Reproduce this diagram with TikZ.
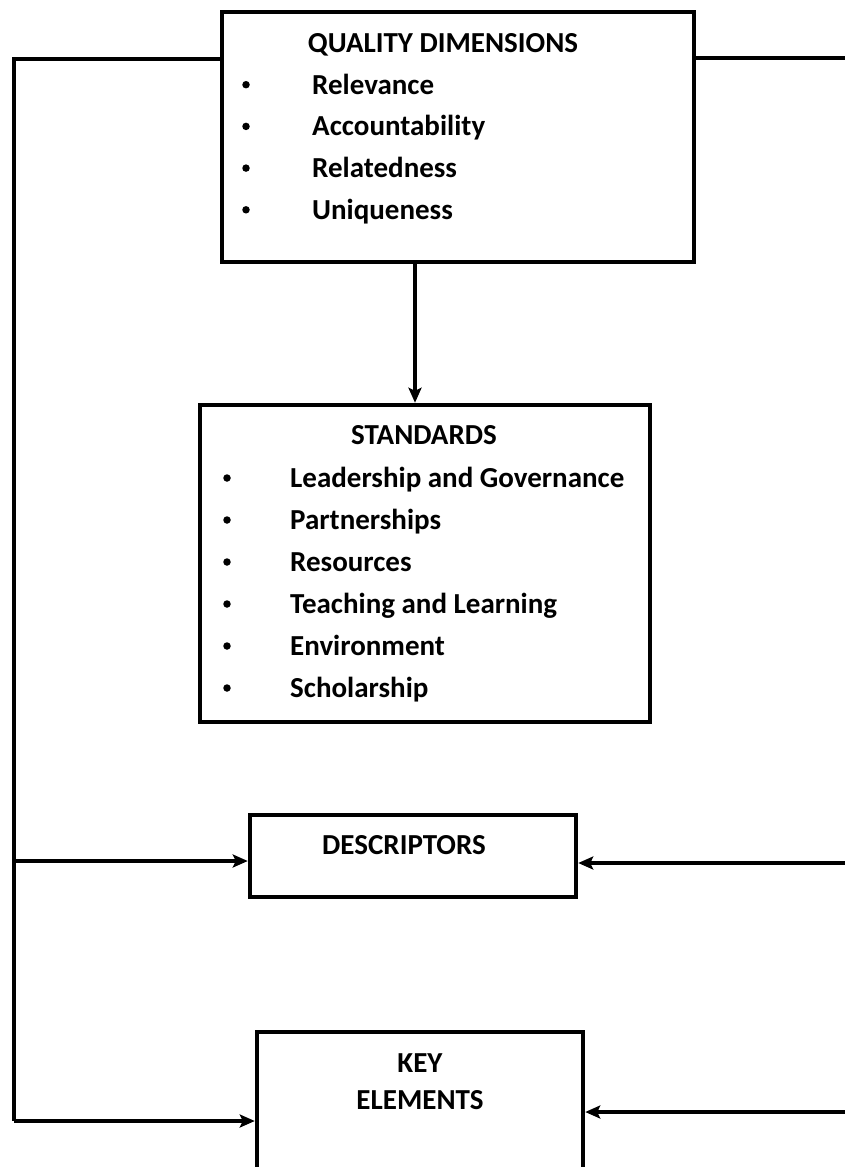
\documentclass[tikz,border=0pt]{standalone}
\usepackage{fontspec}
\setmainfont{Carlito}
\usetikzlibrary{arrows.meta}

\begin{document}
\begin{tikzpicture}[x=1pt,y=-1pt,
  box/.style={draw,line width=4.5pt,inner sep=0pt},
  lbl/.style={font=\bfseries\fontsize{29}{34}\selectfont,inner sep=0pt,
    text height=18.6pt,text depth=0pt},
  item/.style={lbl,anchor=west},
  dot/.style={circle,fill,inner sep=0pt,minimum size=7.5pt},
  link/.style={line width=4pt},
  arr/.style={link,-{Stealth[length=15pt,width=13pt,inset=3pt]}}]
\useasboundingbox (0,0) rectangle (844,1167);

% boxes
\node[box,minimum width=472pt,minimum height=250pt] (qd) at (458,137) {};
\node[box,minimum width=450pt,minimum height=317pt] (std) at (425,563.5) {};
\node[box,minimum width=326pt,minimum height=82pt] (desc) at (413,856) {};
\node[box,minimum width=326pt,minimum height=170pt] (key) at (420,1117) {};

% quality dimensions
\node[lbl] (qdtitle) at (443,43) {QUALITY DIMENSIONS};
\foreach \t [count=\i] in {Relevance,Accountability,Relatedness,Uniqueness} {
  \node[dot] (qdb\i) at (246,43+41.7*\i) {};
  \node[item] (qdi\i) at (312,43+41.7*\i) {\t};
}

% standards
\node[lbl] (stdtitle) at (424,435) {STANDARDS};
\foreach \t [count=\i] in {Leadership and Governance,Partnerships,Resources,
    Teaching and Learning,Environment,Scholarship} {
  \node[dot] (stdb\i) at (227,436+42*\i) {};
  \node[item] (stdi\i) at (290,436+42*\i) {\t};
}

\node[lbl] (desctxt) at (404,845) {DESCRIPTORS};
\node[lbl] (keytxt) at (420,1063) {KEY};
\node[lbl] (keytxt2) at (420,1100) {ELEMENTS};

% connectors
\coordinate (top) at (14,59);
\coordinate (split) at (14,861);
\coordinate (bend) at (14,1121);
\coordinate (edge) at (850,58);
\coordinate (rdesc) at (850,863);
\coordinate (rkey) at (850,1112);

\draw[arr] (qd.south -| 415,0) -- (std.north -| 415,0);
\draw[link] (qd.west |- top) -- (top) -- (bend);
\draw[arr] (bend) -- (key.west |- bend);
\draw[arr] (split) -- (desc.west |- split);
\draw[link] (qd.east |- edge) -- (edge);
\draw[arr] (rdesc) -- (desc.east |- rdesc);
\draw[arr] (rkey) -- (key.east |- rkey);
\end{tikzpicture}
\end{document}
